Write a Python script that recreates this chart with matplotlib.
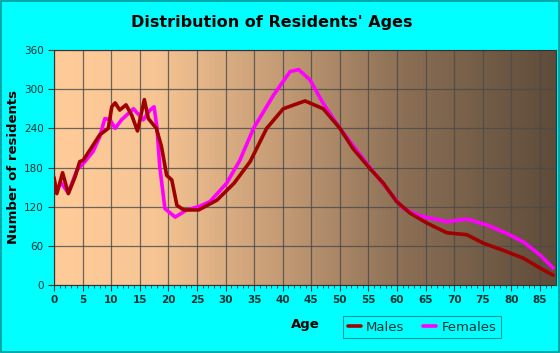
import numpy as np
import matplotlib.pyplot as plt
from matplotlib.colors import LinearSegmentedColormap
from matplotlib.ticker import MultipleLocator

# values
male_age = [0, 0.5, 1.5, 2.5, 3.7, 4.5, 5.1, 6.3, 8.0, 9.5, 10.1, 10.7, 11.5, 12.6, 13.6,
            14.6, 15.8, 16.5, 17.9, 18.8, 19.7, 20.6, 21.5, 22.7, 25.3, 28.5, 31.5, 34.3,
            37.2, 40.1, 43.9, 47.1, 50.0, 52.3, 55.2, 57.6, 59.9, 62.3, 65.2, 68.7, 72.2,
            75.1, 78.6, 82.1, 85.0, 87.3]
male_val = [165, 140, 172, 140, 166, 189, 191, 207, 230, 240, 273, 279, 268, 276, 260,
            236, 284, 255, 240, 212, 168, 161, 122, 115, 115, 130, 156, 189,
            240, 270, 282, 270, 240, 209, 179, 156, 128, 110, 95, 80, 77,
            64, 53, 41, 26, 15]

female_age = [0, 1.3, 2.5, 4.0, 5.1, 6.8, 8.0, 8.9, 9.8, 10.7, 11.8, 13.9, 15.6, 16.8,
              17.5, 18.0, 18.5, 19.4, 21.2, 23.2, 25.3, 27.3, 30.2, 32.5, 34.9, 38.4,
              41.3, 42.8, 44.8, 47.1, 50.0, 52.9, 55.8, 58.2, 61.1, 64.0, 68.7, 72.2,
              75.7, 79.2, 82.1, 85.0, 87.3]
female_val = [142, 156, 141, 176, 186, 204, 227, 255, 253, 240, 253, 270, 253, 268,
              273, 242, 181, 117, 104, 115, 120, 128, 156, 191, 240, 291,
              327, 330, 314, 278, 240, 207, 174, 148, 117, 106, 97, 101,
              92, 79, 66, 46, 26]

fig = plt.figure(figsize=(5.6, 3.53), dpi=100, facecolor='#00FFFF')
ax = fig.add_axes([54/560, 68/353, 502/560, 235/353])

# brown gradient background
cm = LinearSegmentedColormap.from_list('bg', [(0, '#FFCC99'), (0.2, '#F7C594'), (0.45, '#C49B75'),
                                              (0.7, '#8B6F55'), (1, '#5E4C3A')])
ax.imshow(np.linspace(0, 1, 256).reshape(1, -1), cmap=cm, aspect='auto',
          extent=[0, 1, 0, 1], transform=ax.transAxes, zorder=0)

ax.plot(male_age, male_val, color='#A00000', lw=2.6, label='Males', zorder=3,
        solid_joinstyle='round', solid_capstyle='round')
ax.plot(female_age, female_val, color='#FF00FF', lw=2.6, label='Females', zorder=2,
        solid_joinstyle='round', solid_capstyle='round')

ax.set_xlim(0, 87.8)
ax.set_ylim(0, 360)
ax.set_xticks(range(0, 90, 5))
ax.xaxis.set_minor_locator(MultipleLocator(1))
ax.set_yticks(range(0, 361, 60))
ax.grid(True, color='#4a4a4a', lw=0.9, alpha=0.8, zorder=1)
for s in ax.spines.values():
    s.set_color('#333333')
    s.set_linewidth(0.8)
ax.tick_params(axis='both', colors='#333333', labelcolor='#003333', labelsize=7.5,
               length=4, width=0.8)
ax.tick_params(axis='x', which='minor', length=2.5, color='#333333')
for lab in ax.get_xticklabels():
    lab.set_fontweight('bold')

ax.set_xlabel('Age', fontsize=9.5, fontweight='bold', labelpad=9)
fig.text(14/560, 1 - 167/353, 'Number of residents', rotation=90, ha='center', va='center',
         fontsize=9.5, fontweight='bold')

fig.text(0.486, 0.935, "Distribution of Residents' Ages", ha='center', va='center',
         fontsize=11.5, fontweight='bold')

leg = ax.legend(loc='upper left', bbox_to_anchor=(343/560, 37/353), bbox_transform=fig.transFigure,
                ncol=2, frameon=True, fontsize=9.5, handlelength=1.0, handletextpad=0.4,
                columnspacing=1.4, borderpad=0.35, fancybox=False, borderaxespad=0)
leg.get_frame().set_facecolor('#00FFFF')
leg.get_frame().set_edgecolor('#008080')
leg.get_frame().set_linewidth(0.8)
for t in leg.get_texts():
    t.set_color('#003333')

fig.patches.append(plt.Rectangle((0.001, 0.002), 0.997, 0.995, transform=fig.transFigure,
                                 fill=False, edgecolor='#009999', lw=1.2))

fig.savefig('out.png', dpi=100, facecolor=fig.get_facecolor())
